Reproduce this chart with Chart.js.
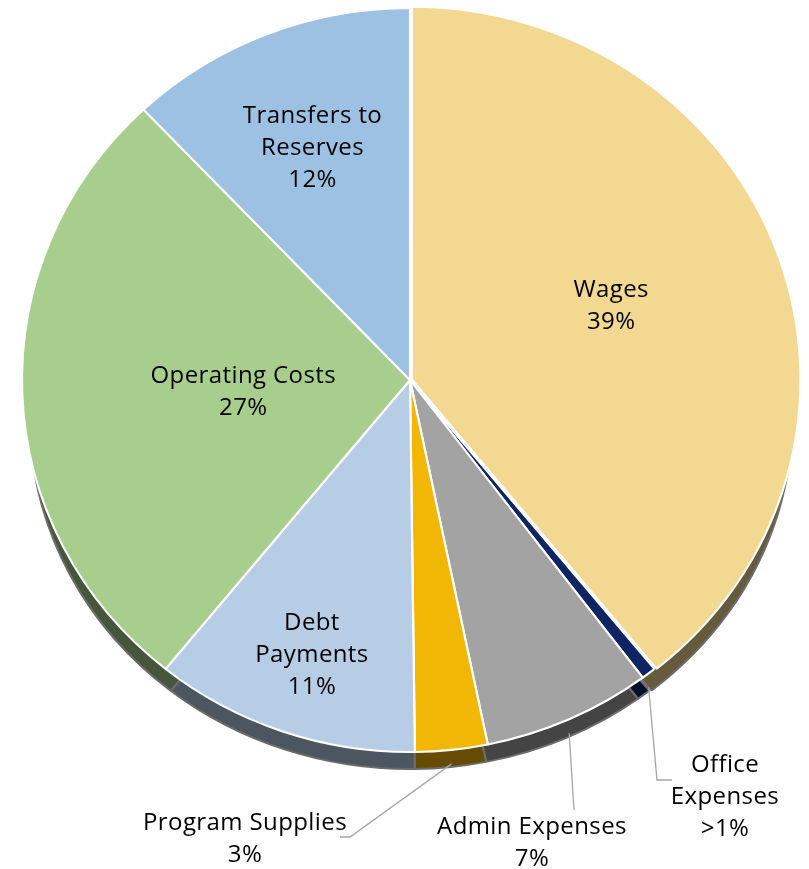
<!DOCTYPE html>
<html><head><meta charset="utf-8">
<script src="https://cdn.jsdelivr.net/npm/chart.js@4"></script>
<style>html,body{margin:0;padding:0;background:#fff}#wrap{width:809px;height:869px}</style>
</head><body><div id="wrap"><canvas id="c" width="809" height="869"></canvas></div>
<script>
const categories = ['Wages', 'Office Expenses', 'Admin Expenses', 'Program Supplies', 'Debt Payments', 'Operating Costs', 'Transfers to Reserves'];
const values = [39, 0.6, 7, 3, 11, 27, 12];
const percentLabels = ['39%', '>1%', '7%', '3%', '11%', '27%', '12%'];
const labelLines = [['Wages'], ['Office', 'Expenses'], ['Admin Expenses'], ['Program Supplies'], ['Debt', 'Payments'], ['Operating Costs'], ['Transfers to', 'Reserves']];
const colors = ['#F2D891', '#0F2463', '#A3A3A3', '#F2B705', '#B7CDE5', '#A8CE8D', '#9CC1E2'];

// layout (styling, not data)
const CX = 410, CY = 380, RX = 388, RY = 372;
const D_DY = 38, D_RX = 380, D_RY = 351;
const FONT = '24px "Open Sans"';
const LINE_H = 32;
const inside = {0: [0.55, -5], 4: [0.77, 5], 5: [0.43, 6], 6: [0.68, 3]};
const outside = {
  1: {pts: [[657, 780], [672, 780]], text: [725, 765]},
  2: {pts: [[574, 810]], text: [532, 827]},
  3: {pts: [[350, 837], [340, 837]], text: [245, 823]}
};

function applyT(ctx, el, cx, cy, rx, ry) {
  const r = el.outerRadius;
  ctx.translate(cx, cy);
  ctx.scale(rx / r, ry / r);
  ctx.translate(-el.x, -el.y);
}
function ellPoint(angle, frac) {
  return [CX + Math.cos(angle) * RX * frac, CY + Math.sin(angle) * RY * frac];
}

const tilt = {
  id: 'tilt',
  beforeDatasetsDraw(chart) {
    const ctx = chart.ctx, meta = chart.getDatasetMeta(0), el0 = meta.data[0];
    ctx.save();
    applyT(ctx, el0, CX, CY + D_DY, D_RX, D_RY);
    ctx.filter = 'brightness(0.42)';
    meta.data.forEach(el => el.draw(ctx));
    ctx.restore();
    ctx.save();
    applyT(ctx, el0, CX, CY, RX, RY);
  },
  afterDatasetsDraw(chart) {
    chart.ctx.restore();
  },
  afterDraw(chart) {
    const ctx = chart.ctx, meta = chart.getDatasetMeta(0);
    ctx.save();
    ctx.font = FONT;
    try { ctx.letterSpacing = '0.4px'; } catch (e) {}
    ctx.fillStyle = '#000';
    ctx.textAlign = 'center';
    ctx.textBaseline = 'middle';
    meta.data.forEach((el, i) => {
      const mid = (el.startAngle + el.endAngle) / 2;
      const lines = labelLines[i].concat([percentLabels[i]]);
      if (inside[i] !== undefined) {
        const [x, y] = ellPoint(mid, inside[i][0]);
        const y0 = y + inside[i][1] - (lines.length - 1) * LINE_H / 2;
        lines.forEach((t, k) => ctx.fillText(t, x, y0 + k * LINE_H));
      } else {
        const o = outside[i];
        const [sx, sy] = ellPoint(mid, 1.0);
        ctx.beginPath();
        ctx.strokeStyle = '#A6A6A6';
        ctx.lineWidth = 1.3;
        ctx.moveTo(sx, sy + 14);
        o.pts.forEach(p => ctx.lineTo(p[0], p[1]));
        ctx.stroke();
        lines.forEach((t, k) => ctx.fillText(t, o.text[0], o.text[1] + k * LINE_H));
      }
    });
    ctx.restore();
  }
};

new Chart(document.getElementById('c'), {
  type: 'pie',
  data: {
    labels: categories,
    datasets: [{
      data: values,
      backgroundColor: colors,
      borderColor: '#FFFFFF',
      borderWidth: 2,
      offset: [7, 0, 0, 0, 0, 0, 0],
      clip: false
    }]
  },
  options: {
    responsive: false,
    animation: false,
    events: [],
    layout: {padding: 40},
    plugins: {legend: {display: false}, tooltip: {enabled: false}, title: {display: false}}
  },
  plugins: [tilt]
});
</script></body></html>
